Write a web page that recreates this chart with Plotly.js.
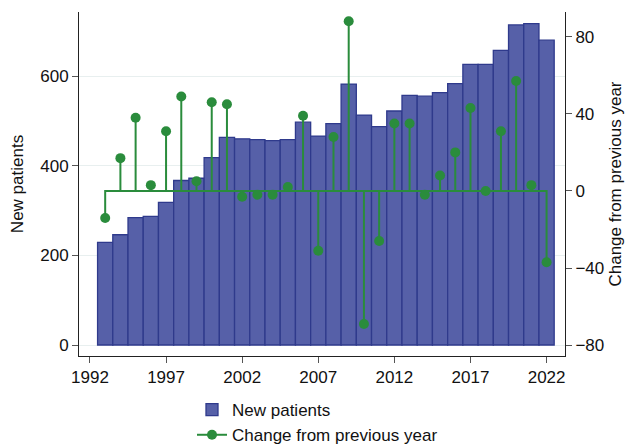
<!DOCTYPE html>
<html>
<head>
<meta charset="utf-8">
<script src="https://cdn.plot.ly/plotly-3.0.1.min.js"></script>
<style>html,body{margin:0;padding:0;background:#fff;}#chart{width:630px;height:445px;}</style>
</head>
<body>
<div id="chart"></div>
<script>
const years = [1993,1994,1995,1996,1997,1998,1999,2000,2001,2002,2003,2004,2005,2006,2007,2008,2009,2010,2011,2012,2013,2014,2015,2016,2017,2018,2019,2020,2021,2022];
const newPatients = [229,246,284,287,318,367,372,418,463,460,458,456,458,497,466,494,582,513,487,522,557,555,563,583,626,626,657,714,717,680];
const changes = [-14,17,38,3,31,49,5,46,45,-3,-2,-2,2,39,-31,28,88,-69,-26,35,35,-2,8,20,43,0,31,57,3,-37];
const xTicks = [1992,1997,2002,2007,2012,2017,2022];
const leftTicks = [0,200,400,600];
const rightTicks = [-80,-40,0,40,80];

const green = '#2a8c3c';
const fontFam = 'Liberation Sans, Arial, sans-serif';

// stem path built from data
const stemX = [], stemY = [];
years.forEach((yr, i) => { stemX.push(yr, yr, yr); stemY.push(0, changes[i], 0); });
// markers with gaps so no connecting line is drawn
const mkX = [], mkY = [];
years.forEach((yr, i) => { mkX.push(yr, yr); mkY.push(changes[i], null); });

const data = [
  {type:'bar', x: years, y: newPatients, name:'New patients', yaxis:'y',
   width: 1,
   marker:{color:'#5660a8', line:{color:'#2f3a8c', width:1.3}}},
  {type:'scatter', mode:'lines', x: stemX, y: stemY, yaxis:'y2', showlegend:false,
   line:{color:green, width:2}, hoverinfo:'skip'},
  {type:'scatter', mode:'lines+markers', x: mkX, y: mkY, yaxis:'y2', connectgaps:false,
   name:'Change from previous year',
   line:{color:green, width:2}, marker:{color:green, size:10}}
];

const layout = {
  width:630, height:445,
  margin:{l:79, r:65, t:12, b:89, autoexpand:false},
  paper_bgcolor:'#fff', plot_bgcolor:'#fff',
  font:{family:fontFam, size:17, color:'#111'},
  bargap:0,
  xaxis:{range:[1991.28, 2023.21], tickvals:xTicks, ticktext:xTicks.map(String), tickangle:0,
    ticks:'outside', ticklen:6, tickcolor:'#555', showline:true, linecolor:'#222', linewidth:1,
    showgrid:false, zeroline:false, automargin:false, tickfont:{size:17}},
  yaxis:{range:[-24.5, 742.8], tickvals:leftTicks, ticks:'outside', ticklen:6, tickcolor:'#555',
    showline:true, linecolor:'#222', linewidth:1, showgrid:true, gridcolor:'#e8efef', gridwidth:1,
    zeroline:false, automargin:false, title:{text:'New patients', font:{size:17}, standoff:12}, tickfont:{size:17}},
  yaxis2:{range:[-85.6, 92.8], tickvals:rightTicks, overlaying:'y', side:'right',
    ticks:'outside', ticklen:6, tickcolor:'#555', showline:true, linecolor:'#222', linewidth:1,
    showgrid:false, zeroline:false, automargin:false,
    title:{text:'Change from previous year', font:{size:17}}, tickfont:{size:17}},
  legend:{orientation:'v', x:0.2325, y:-0.105,
    xanchor:'left', yanchor:'top', font:{size:17}, bgcolor:'rgba(0,0,0,0)', tracegroupgap:0},
  showlegend:true
};

Plotly.newPlot('chart', data, layout, {displayModeBar:false, staticPlot:true});
</script>
</body>
</html>
